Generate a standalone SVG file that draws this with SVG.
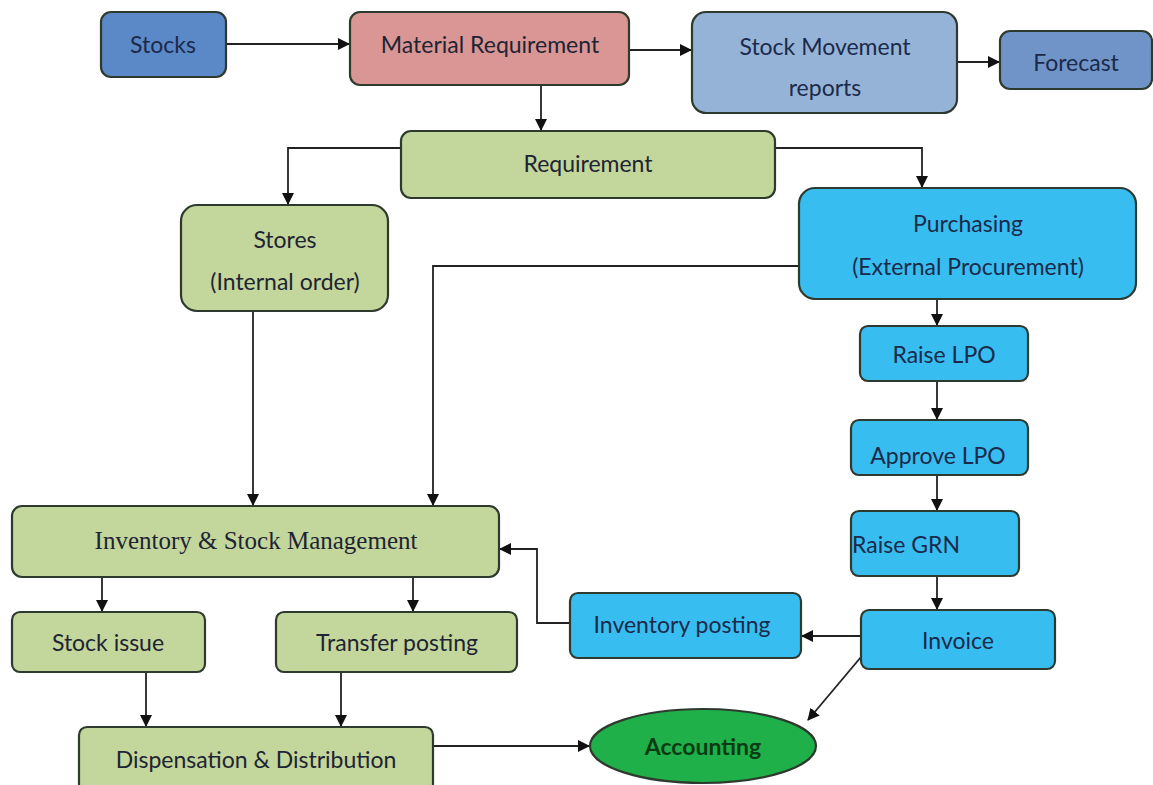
<svg xmlns="http://www.w3.org/2000/svg" width="1153" height="785" viewBox="0 0 1153 785">
<defs>
<marker id="ah" markerWidth="12" markerHeight="12" refX="11" refY="6" orient="auto" markerUnits="userSpaceOnUse">
<path d="M0,0 L12,6 L0,12 Z" fill="#111"/>
</marker>
<style>
.n{stroke:#2f3a2f;stroke-width:2.2}
.t{font-family:Lato,"Open Sans","Liberation Sans",sans-serif;font-size:23px;text-anchor:middle;fill:#1e2433}
.tb{fill:#1b2a4a}
.c{fill:none;stroke:#222;stroke-width:1.8;marker-end:url(#ah)}
.green{fill:#c3d69b}
.cyan{fill:#38bdf0}
</style>
</defs>
<rect width="1153" height="785" fill="#fff"/>
<g id="connectors">
<path class="c" d="M226,44 H349"/>
<path class="c" d="M629,50 H691"/>
<path class="c" d="M957,62 H999"/>
<path class="c" d="M541,85 V130"/>
<path class="c" d="M401,148 H288 V204"/>
<path class="c" d="M775,148 H922 V187"/>
<path class="c" d="M799,266 H433 V505"/>
<path class="c" d="M253,311 V505"/>
<path class="c" d="M937,299 V325"/>
<path class="c" d="M937,381 V419"/>
<path class="c" d="M937,475 V510"/>
<path class="c" d="M937,576 V609"/>
<path class="c" d="M861,636 H802"/>
<path class="c" d="M570,623 H537 V549 H500"/>
<path class="c" d="M861,657 L808,720"/>
<path class="c" d="M102,577 V611"/>
<path class="c" d="M413,577 V611"/>
<path class="c" d="M146,672 V726"/>
<path class="c" d="M341,672 V726"/>
<path class="c" d="M433,746 H589"/>
</g>
<g id="stocks"><rect class="n" x="101" y="12" width="125" height="65" rx="10" fill="#5b88c6"/><text class="t tb" x="163" y="53">Stocks</text></g>
<g id="material-requirement"><rect class="n" x="350" y="12" width="279" height="73" rx="10" fill="#d99694"/><text class="t" x="490" y="53">Material Requirement</text></g>
<g id="stock-movement"><rect class="n" x="692" y="12" width="265" height="101" rx="14" fill="#95b3d7"/><text class="t tb" x="825" y="55">Stock Movement</text><text class="t tb" x="825" y="96">reports</text></g>
<g id="forecast"><rect class="n" x="1000" y="31" width="152" height="58" rx="10" fill="#7094c8"/><text class="t tb" x="1076" y="71">Forecast</text></g>
<g id="requirement"><rect class="n green" x="401" y="131" width="374" height="67" rx="10"/><text class="t" x="588" y="172">Requirement</text></g>
<g id="stores"><rect class="n green" x="181" y="205" width="207" height="106" rx="16"/><text class="t" x="285" y="248">Stores</text><text class="t" x="285" y="290">(Internal order)</text></g>
<g id="purchasing"><rect class="n cyan" x="799" y="188" width="337" height="111" rx="16"/><text class="t tb" x="968" y="232">Purchasing</text><text class="t tb" x="968" y="275">(External Procurement)</text></g>
<g id="raise-lpo"><rect class="n cyan" x="860" y="326" width="168" height="55" rx="8"/><text class="t tb" x="944" y="363">Raise LPO</text></g>
<g id="approve-lpo"><rect class="n cyan" x="851" y="420" width="177" height="55" rx="8"/><text class="t tb" x="938" y="464">Approve LPO</text></g>
<g id="raise-grn"><rect class="n cyan" x="851" y="511" width="168" height="65" rx="8"/><text class="t tb" x="906" y="553">Raise GRN</text></g>
<g id="invoice"><rect class="n cyan" x="861" y="610" width="194" height="59" rx="8"/><text class="t tb" x="958" y="649">Invoice</text></g>
<g id="inventory-posting"><rect class="n cyan" x="570" y="593" width="231" height="65" rx="8"/><text class="t tb" x="682" y="633">Inventory posting</text></g>
<g id="accounting"><ellipse class="n" cx="703" cy="746" rx="113" ry="37" fill="#1fb04a"/><text class="t" x="703" y="755" style="font-weight:bold;fill:#0b3b12">Accounting</text></g>
<g id="inventory-stock-management"><rect class="n green" x="12" y="506" width="487" height="71" rx="10"/><text class="t" x="256" y="549" style="font-family:'Liberation Serif','Times New Roman',serif;font-size:25px">Inventory &amp; Stock Management</text></g>
<g id="stock-issue"><rect class="n green" x="12" y="612" width="193" height="60" rx="8"/><text class="t" x="108" y="651">Stock issue</text></g>
<g id="transfer-posting"><rect class="n green" x="276" y="612" width="241" height="60" rx="8"/><text class="t" x="397" y="651">Transfer posting</text></g>
<g id="dispensation"><rect class="n green" x="79" y="727" width="354" height="70" rx="8"/><text class="t" x="256" y="768">Dispensation &amp; Distribution</text></g>
</svg>
